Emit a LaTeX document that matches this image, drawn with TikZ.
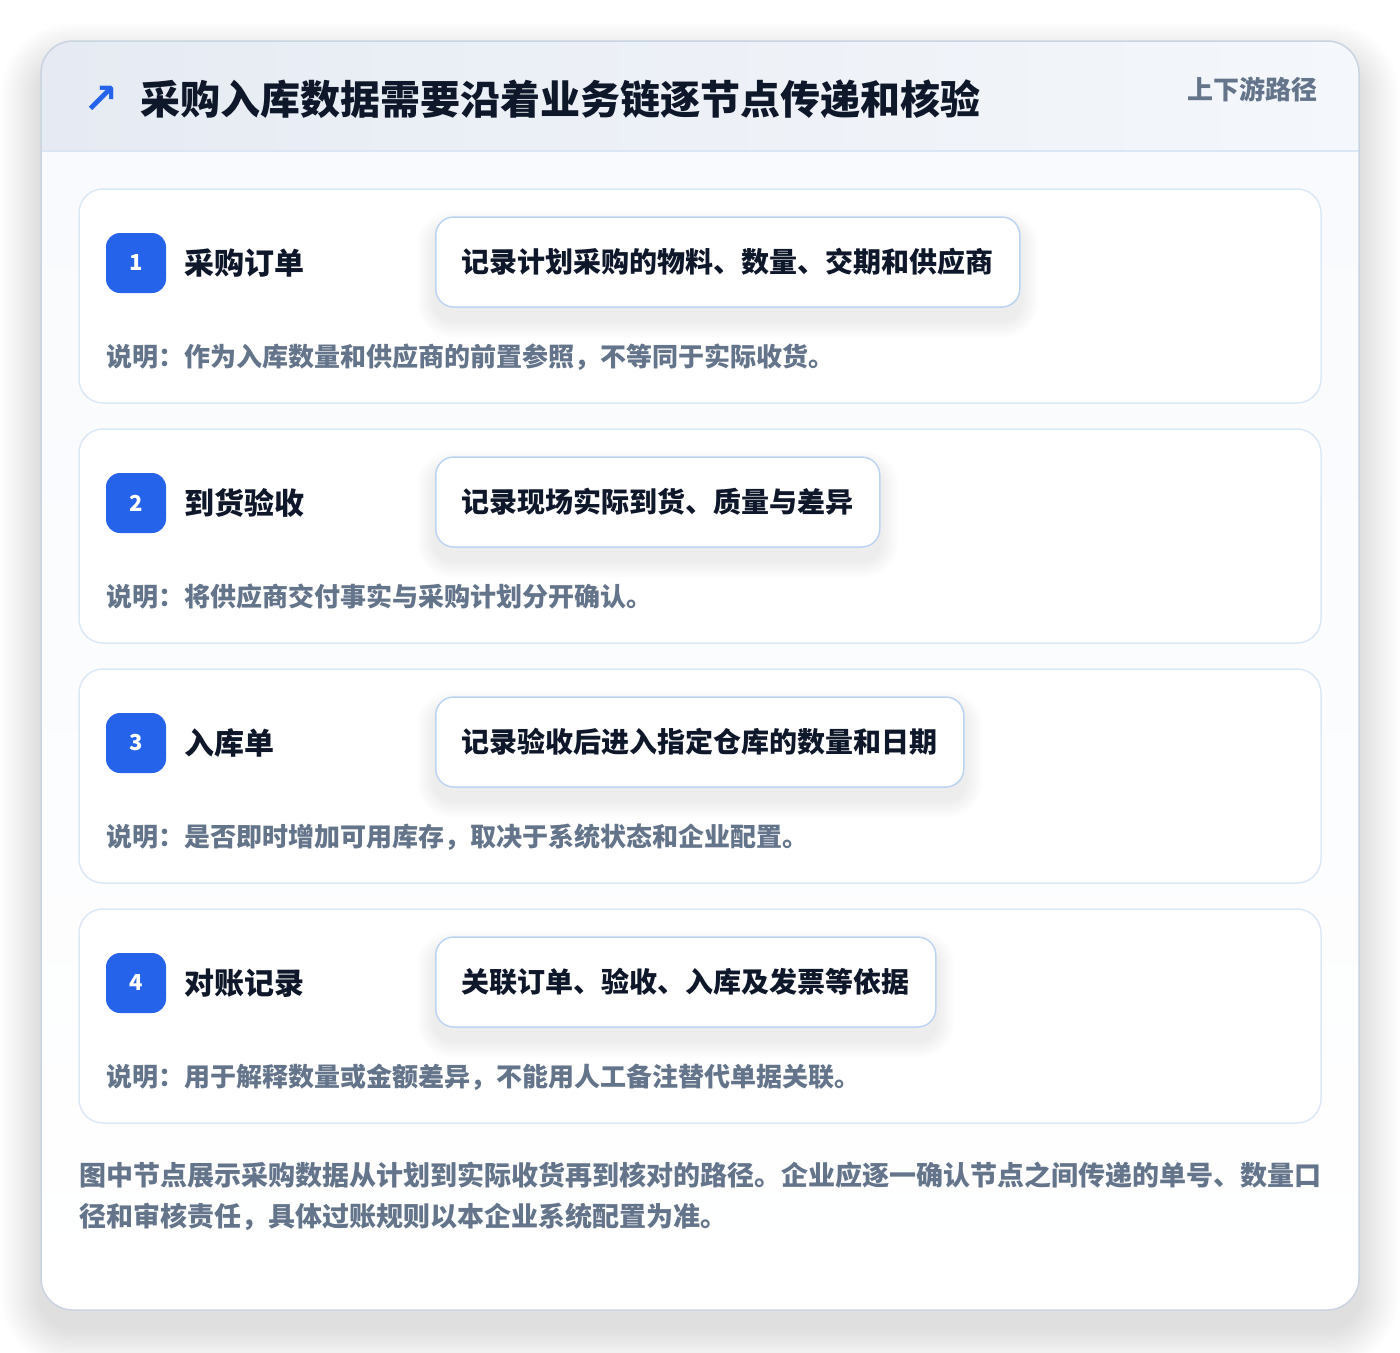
\documentclass[tikz,border=0pt]{standalone}
\usepackage{fontspec}
\setmainfont{Noto Sans CJK SC}
\newfontfamily\symfont{DejaVu Sans}
\usetikzlibrary{calc}
\definecolor{accent}{HTML}{2563EB}
\definecolor{ink}{HTML}{0F172A}
\definecolor{muted}{HTML}{64748B}
\definecolor{cardline}{HTML}{DCE8F6}
\definecolor{pillline}{HTML}{BCD4F2}
\definecolor{outerline}{HTML}{CAD3E0}
\definecolor{hdrL}{HTML}{E6EBF3}
\definecolor{hdrR}{HTML}{F4F7FB}
\definecolor{hdrline}{HTML}{DAE6F4}
\definecolor{bodytop}{HTML}{F8FAFD}
\definecolor{bodybot}{HTML}{FFFFFF}
\pgfdeclarelayer{bg}
\pgfdeclarelayer{shd}
\pgfsetlayers{bg,shd,main}
\tikzset{
  fs/.style={font=\fontsize{#1}{#1}\selectfont\bfseries},
  stepcard/.style={fill=white, draw=cardline, line width=1.5pt, rounded corners=24pt},
  badge/.style={fill=accent, text=white, minimum size=60pt, inner sep=0pt, rounded corners=14pt, fs=22},
  steptitle/.style={anchor=west, text=ink, fs=30, inner sep=0pt},
  pill/.style={anchor=west, fill=white, draw=pillline, line width=1.5pt, rounded corners=18pt,
    minimum height=90pt, inner xsep=26pt, inner ysep=0pt, text=ink, fs=28},
  desc/.style={anchor=west, text=muted, fs=26, inner sep=0pt},
  foot/.style={anchor=west, text=muted, fs=27, inner sep=0pt},
}
\begin{document}
\begin{tikzpicture}[x=1pt,y=-1pt]
\useasboundingbox (0,0) rectangle (1400,1352);
\begin{pgfonlayer}{bg}
\fill[white] (0,0) rectangle (1400,1352);
% outer shadow
\foreach \i [evaluate=\i as \r using 32+2.5*\i] in {1,...,16}{
  \fill[black, opacity=0.006, rounded corners=\r pt]
    (41-2.5*\i, 41-2.5*\i+22) rectangle (1359+2.5*\i, 1310+2.5*\i+18);
}
\begin{scope}
\clip[rounded corners=32pt] (41,41) rectangle (1359,1310);
\shade[top color=bodytop, bottom color=bodybot] (41,151) rectangle (1359,1310);
\shade[left color=hdrL, right color=hdrR] (41,41) rectangle (1359,151);
\end{scope}
\draw[hdrline, line width=1.5pt] (41,151) -- (1359,151);
\draw[outerline, line width=1.5pt, rounded corners=32pt] (41,41) rectangle (1359,1310);
\foreach \k in {0,1,2,3}{
  \draw[stepcard] (79,189+240*\k) rectangle (1321,403+240*\k);
}
\end{pgfonlayer}

% header
\node[text=accent, font=\symfont\bfseries\fontsize{42}{42}\selectfont, inner sep=0pt] (icon) at (101,100) {↗};
\node[anchor=west, text=ink, fs=40, inner sep=0pt] (title) at (140,99) {采购入库数据需要沿着业务链逐节点传递和核验};
\node[anchor=east, text=muted, fs=26, inner sep=0pt] (tag) at (1318,89) {上下游路径};

% steps
\newcommand{\stepitem}[5]{%
  \node[badge] (b#1) at (136,#2+74) {#1};
  \node[steptitle] (t#1) at (184,#2+74) {#3};
  \node[pill] (p#1) at (435,#2+73) {#4};
  \node[desc] (d#1) at (106,#2+168) {#5};
  \begin{pgfonlayer}{shd}
  \foreach \j [evaluate=\j as \rr using 18+2*\j] in {1,...,9}{
    \fill[black, opacity=0.006, rounded corners=\rr pt]
      ($(p#1.north west)+(-2*\j,-2*\j+12)$) rectangle ($(p#1.south east)+(2*\j,2*\j+12)$);
  }
  \end{pgfonlayer}
}
\stepitem{1}{189}{采购订单}{记录计划采购的物料、数量、交期和供应商}{说明：作为入库数量和供应商的前置参照，不等同于实际收货。}
\stepitem{2}{429}{到货验收}{记录现场实际到货、质量与差异}{说明：将供应商交付事实与采购计划分开确认。}
\stepitem{3}{669}{入库单}{记录验收后进入指定仓库的数量和日期}{说明：是否即时增加可用库存，取决于系统状态和企业配置。}
\stepitem{4}{909}{对账记录}{关联订单、验收、入库及发票等依据}{说明：用于解释数量或金额差异，不能用人工备注替代单据关联。}

% footer
\node[foot] (f1) at (79,1175) {图中节点展示采购数据从计划到实际收货再到核对的路径。企业应逐一确认节点之间传递的单号、数量口};
\node[foot] (f2) at (79,1217) {径和审核责任，具体过账规则以本企业系统配置为准。};
\end{tikzpicture}
\end{document}
